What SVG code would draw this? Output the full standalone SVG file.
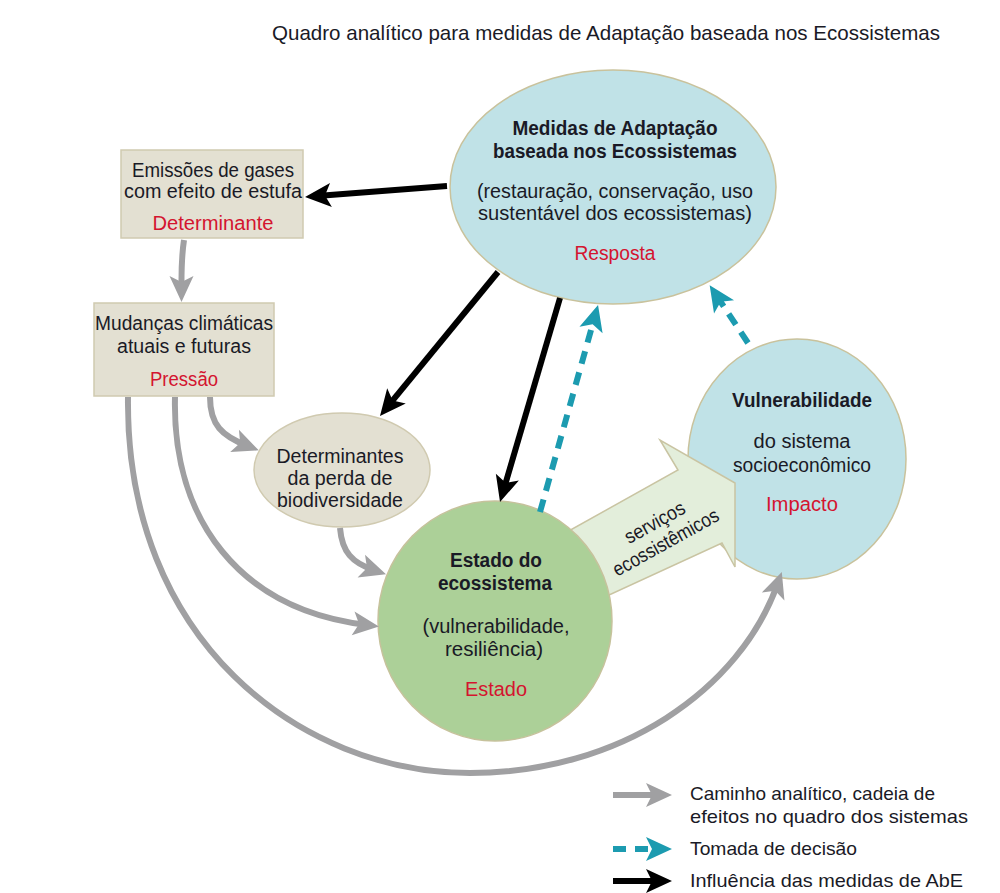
<svg xmlns="http://www.w3.org/2000/svg" width="1000" height="893" viewBox="0 0 1000 893">
<defs>
<style>
text{font-family:"Liberation Sans","Arial",sans-serif;fill:#1a1a26;text-anchor:middle}
.t{font-size:20px}
.b{font-size:20px;font-weight:bold}
.r{font-size:20px;fill:#d4142f}
.lg{font-size:19px;text-anchor:start}
.title{font-size:21px;text-anchor:start}
.blk{fill:none;stroke:#000;stroke-width:6}
.gry{fill:none;stroke:#a0a0a2;stroke-width:6}
.tea{fill:none;stroke:#1c9bb0;stroke-width:6;stroke-dasharray:13 9}
.blueNode{fill:#c0e2e7;stroke:#c9c29c;stroke-width:1.5}
.beige{fill:#e3e0d2;stroke:#d0cab0;stroke-width:1.5}
</style>
<marker id="mB" markerUnits="userSpaceOnUse" markerWidth="28" markerHeight="26" refX="14" refY="12" orient="auto" overflow="visible">
<path d="M0,0 L26,12 L0,24 L6,12 z" fill="#000"/>
</marker>
<marker id="mG" markerUnits="userSpaceOnUse" markerWidth="28" markerHeight="26" refX="14" refY="12" orient="auto" overflow="visible">
<path d="M0,0 L26,12 L0,24 L6,12 z" fill="#a0a0a2"/>
</marker>
<marker id="mT" markerUnits="userSpaceOnUse" markerWidth="28" markerHeight="26" refX="14" refY="12" orient="auto" overflow="visible">
<path d="M0,0 L26,12 L0,24 L6,12 z" fill="#1c9bb0"/>
</marker>
</defs>
<rect width="1000" height="893" fill="#fff"/>
<text class="title" x="272" y="40" textLength="668" lengthAdjust="spacingAndGlyphs">Quadro analítico para medidas de Adaptação baseada nos Ecossistemas</text>

<g id="node-resposta">
<ellipse class="blueNode" cx="613" cy="187" rx="163" ry="117"/>
<text class="b" x="615" y="135" textLength="205" lengthAdjust="spacingAndGlyphs">Medidas de Adaptação</text>
<text class="b" x="615" y="158" textLength="244" lengthAdjust="spacingAndGlyphs">baseada nos Ecossistemas</text>
<text class="t" x="615" y="198" textLength="276" lengthAdjust="spacingAndGlyphs">(restauração, conservação, uso</text>
<text class="t" x="615" y="220" textLength="274" lengthAdjust="spacingAndGlyphs">sustentável dos ecossistemas)</text>
<text class="r" x="615" y="260" textLength="81" lengthAdjust="spacingAndGlyphs">Resposta</text>
</g>

<g id="node-determinante">
<rect class="beige" x="121" y="150" width="182" height="88"/>
<text class="t" x="213" y="177" textLength="162" lengthAdjust="spacingAndGlyphs">Emissões de gases</text>
<text class="t" x="213" y="198" textLength="178" lengthAdjust="spacingAndGlyphs">com efeito de estufa</text>
<text class="r" x="213" y="230" textLength="121" lengthAdjust="spacingAndGlyphs">Determinante</text>
</g>

<g id="node-pressao">
<rect class="beige" x="94" y="303" width="180" height="93"/>
<text class="t" x="184" y="330" textLength="178" lengthAdjust="spacingAndGlyphs">Mudanças climáticas</text>
<text class="t" x="184" y="353" textLength="134" lengthAdjust="spacingAndGlyphs">atuais e futuras</text>
<text class="r" x="184" y="386" textLength="68" lengthAdjust="spacingAndGlyphs">Pressão</text>
</g>

<g id="node-biodiversidade">
<ellipse class="beige" cx="342" cy="470" rx="88" ry="57" stroke="#c8c29e"/>
<text class="t" x="340" y="463" textLength="127" lengthAdjust="spacingAndGlyphs">Determinantes</text>
<text class="t" x="340" y="485" textLength="105" lengthAdjust="spacingAndGlyphs">da perda de</text>
<text class="t" x="340" y="507" textLength="126" lengthAdjust="spacingAndGlyphs">biodiversidade</text>
</g>

<g id="node-impacto">
<ellipse class="blueNode" cx="797" cy="459" rx="109" ry="120"/>
<text class="b" x="802" y="407" textLength="140" lengthAdjust="spacingAndGlyphs">Vulnerabilidade</text>
<text class="t" x="802" y="448" textLength="97" lengthAdjust="spacingAndGlyphs">do sistema</text>
<text class="t" x="802" y="472" textLength="138" lengthAdjust="spacingAndGlyphs">socioeconômico</text>
<text class="r" x="802" y="511" textLength="72" lengthAdjust="spacingAndGlyphs">Impacto</text>
</g>

<g id="node-servicos">
<polygon points="540,547 678,470 660,440 735,483 735,567 722,543 570,613" fill="#e3eedb" stroke="#c9c4a2" stroke-width="1.5"/>
<text class="t" x="655" y="529" transform="rotate(-29 655 523)" textLength="66" lengthAdjust="spacingAndGlyphs">serviços</text>
<text class="t" x="666" y="549" transform="rotate(-29 666 543)" textLength="118" lengthAdjust="spacingAndGlyphs">ecossistêmicos</text>
</g>

<g id="node-estado">
<ellipse cx="495" cy="621" rx="117" ry="120" fill="#acd098" stroke="#c6c29c" stroke-width="1.5"/>
<text class="b" x="496" y="567" textLength="92" lengthAdjust="spacingAndGlyphs">Estado do</text>
<text class="b" x="495" y="590" textLength="114" lengthAdjust="spacingAndGlyphs">ecossistema</text>
<text class="t" x="496" y="633" textLength="147" lengthAdjust="spacingAndGlyphs">(vulnerabilidade,</text>
<text class="t" x="494" y="656" textLength="98" lengthAdjust="spacingAndGlyphs">resiliência)</text>
<text class="r" x="496" y="696" textLength="62" lengthAdjust="spacingAndGlyphs">Estado</text>
</g>

<g id="connectors">
<path class="blk" d="M447,186 L317,196" marker-end="url(#mB)"/>
<path class="blk" d="M498,272 L387.6,406.7" marker-end="url(#mB)"/>
<path class="blk" d="M560,298 L503.4,490.5" marker-end="url(#mB)"/>
<path class="tea" d="M540,512 L594.8,316.6" marker-end="url(#mT)"/>
<path class="tea" d="M748,343 L716.3,295.2" marker-end="url(#mT)"/>
<path class="gry" d="M184,240 C181,260 181.5,275 181.5,290" marker-end="url(#mG)"/>
<path class="gry" d="M210,397 C210,425 222,436 247.6,446" marker-end="url(#mG)"/>
<path class="gry" d="M340,528 C342,552 352,563 374.6,570.4" marker-end="url(#mG)"/>
<path class="gry" d="M175,397 C172,520 240,610 367,625" marker-end="url(#mG)"/>
<path class="gry" d="M128,397 C125,640 300,773 470,773 C620,773 740,690 777.8,583.3" marker-end="url(#mG)"/>
</g>

<g id="legend">
<path class="gry" d="M613,795 L660,795" marker-end="url(#mG)"/>
<text class="lg" x="690" y="800" textLength="245" lengthAdjust="spacingAndGlyphs">Caminho analítico, cadeia de</text>
<text class="lg" x="690" y="823" textLength="278" lengthAdjust="spacingAndGlyphs">efeitos no quadro dos sistemas</text>
<path class="tea" d="M613,849 L660,849" marker-end="url(#mT)"/>
<text class="lg" x="690" y="855" textLength="167" lengthAdjust="spacingAndGlyphs">Tomada de decisão</text>
<path class="blk" d="M613,881 L660,881" marker-end="url(#mB)"/>
<text class="lg" x="690" y="887" textLength="273" lengthAdjust="spacingAndGlyphs">Influência das medidas de AbE</text>
</g>
</svg>
